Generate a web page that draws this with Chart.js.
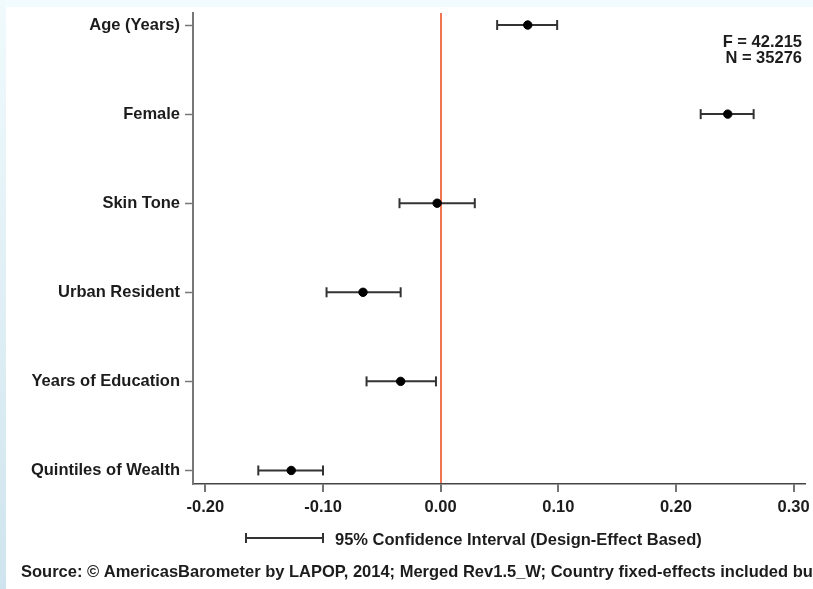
<!DOCTYPE html>
<html>
<head>
<meta charset="utf-8">
<script src="https://cdn.jsdelivr.net/npm/chart.js@4.4.1/dist/chart.umd.min.js"></script>
<style>
  html, body { margin: 0; padding: 0; background: #ffffff; }
  #wrap { width: 813px; height: 589px; position: relative; }
  canvas { display: block; }
</style>
</head>
<body>
<div id="wrap"><canvas id="c" width="813" height="589"></canvas></div>
<script>
// ---- data ----
const categories = ['Age (Years)', 'Female', 'Skin Tone', 'Urban Resident', 'Years of Education', 'Quintiles of Wealth'];
const coef   = [0.074, 0.244, -0.003, -0.066, -0.034, -0.127];
const ciLow  = [0.048, 0.221, -0.035, -0.097, -0.063, -0.155];
const ciHigh = [0.099, 0.266,  0.029, -0.034, -0.004, -0.100];
const xTicks = [-0.20, -0.10, 0.00, 0.10, 0.20, 0.30];
const statLines = ['F = 42.215', 'N = 35276'];
const legendText = '95% Confidence Interval (Design-Effect Based)';
const sourceText = 'Source: \u00A9 AmericasBarometer by LAPOP, 2014; Merged Rev1.5_W; Country fixed-effects included but';

const FONT = '"Liberation Sans", Arial, Helvetica, sans-serif';
const TEXT = '#1c1c1c';
const FS = 16.5;

const ciDatasets = categories.map((c, i) => ({
  type: 'scatter',
  label: c,
  data: [{ x: ciLow[i], y: i + 1 }, { x: ciHigh[i], y: i + 1 }],
  showLine: true,
  borderColor: '#333',
  borderWidth: 2,
  pointStyle: 'line',
  rotation: 90,
  pointRadius: 5,
  pointBorderWidth: 2,
  pointBorderColor: '#333',
  pointBackgroundColor: '#333',
  order: 2,
  clip: false
}));

const pointDataset = {
  type: 'scatter',
  label: 'Coefficient',
  data: categories.map((c, i) => ({ x: coef[i], y: i + 1 })),
  pointStyle: 'circle',
  pointRadius: 4.2,
  pointBackgroundColor: '#000',
  pointBorderColor: '#000',
  pointBorderWidth: 1,
  order: 1,
  clip: false
};

const bgPlugin = {
  id: 'bg',
  beforeDraw(chart) {
    const ctx = chart.ctx;
    const W = chart.width, H = chart.height;
    ctx.save();
    ctx.fillStyle = '#ffffff';
    ctx.fillRect(0, 0, W, H);
    ctx.fillStyle = '#f2fbfd';
    ctx.fillRect(0, 0, W, 7);
    const g = ctx.createLinearGradient(0, 0, 0, H);
    g.addColorStop(0, '#f0fafc');
    g.addColorStop(1, '#cfe4ee');
    ctx.fillStyle = g;
    ctx.fillRect(0, 0, 6, H);
    ctx.restore();
  }
};

const extrasPlugin = {
  id: 'extras',
  afterDraw(chart) {
    const ctx = chart.ctx;
    ctx.save();
    ctx.fillStyle = TEXT;
    ctx.font = 'bold ' + FS + 'px ' + FONT;
    ctx.textAlign = 'right';
    ctx.textBaseline = 'middle';
    ctx.fillText(statLines[0], 802, 42);
    ctx.fillText(statLines[1], 802, 58);

    // legend sample
    ctx.strokeStyle = '#333';
    ctx.lineWidth = 2;
    ctx.beginPath();
    ctx.moveTo(246, 538); ctx.lineTo(323, 538);
    ctx.moveTo(246, 533); ctx.lineTo(246, 543);
    ctx.moveTo(323, 533); ctx.lineTo(323, 543);
    ctx.stroke();
    ctx.textAlign = 'left';
    ctx.fillText(legendText, 335, 540);

    ctx.fillText(sourceText, 21, 572);
    ctx.restore();
  }
};

new Chart(document.getElementById('c'), {
  type: 'scatter',
  data: { datasets: [...ciDatasets, pointDataset] },
  options: {
    responsive: false,
    animation: false,
    devicePixelRatio: 1,
    layout: { padding: { left: 0, right: 7, top: 13, bottom: 65 } },
    plugins: { legend: { display: false }, tooltip: { enabled: false } },
    scales: {
      x: {
        type: 'linear',
        min: -0.2105,
        max: 0.3105,
        afterBuildTicks(scale) { scale.ticks = xTicks.map(v => ({ value: v })); },
        afterFit(scale) {
          scale.height = 40;
          scale.paddingLeft = 0; scale.paddingRight = 0;
          scale.paddingTop = 0; scale.paddingBottom = 0;
        },
        ticks: {
          callback: v => v.toFixed(2),
          color: TEXT,
          font: { family: FONT, size: FS, weight: 'bold' },
          padding: 6,
          maxRotation: 0
        },
        grid: {
          drawOnChartArea: true,
          color: ctx => (ctx.tick && Math.abs(ctx.tick.value) < 1e-9) ? '#f27552' : 'rgba(0,0,0,0)',
          lineWidth: ctx => (ctx.tick && Math.abs(ctx.tick.value) < 1e-9) ? 2 : 0,
          tickColor: '#444',
          tickLength: 8,
          tickWidth: 1.5
        },
        border: { display: true, color: '#444', width: 1.5 }
      },
      y: {
        type: 'linear',
        reverse: true,
        min: 0.865,
        max: 6.152,
        afterBuildTicks(scale) { scale.ticks = categories.map((c, i) => ({ value: i + 1 })); },
        afterFit(scale) {
          scale.width = 193;
          scale.paddingLeft = 0; scale.paddingRight = 0;
          scale.paddingTop = 0; scale.paddingBottom = 0;
        },
        ticks: {
          callback: v => categories[Math.round(v) - 1],
          color: TEXT,
          font: { family: FONT, size: FS, weight: 'bold' },
          padding: 5
        },
        grid: {
          drawOnChartArea: false,
          tickColor: '#777',
          tickLength: 8,
          tickWidth: 1.5
        },
        border: { display: true, color: '#777', width: 2 }
      }
    }
  },
  plugins: [bgPlugin, extrasPlugin]
});
</script>
</body>
</html>
